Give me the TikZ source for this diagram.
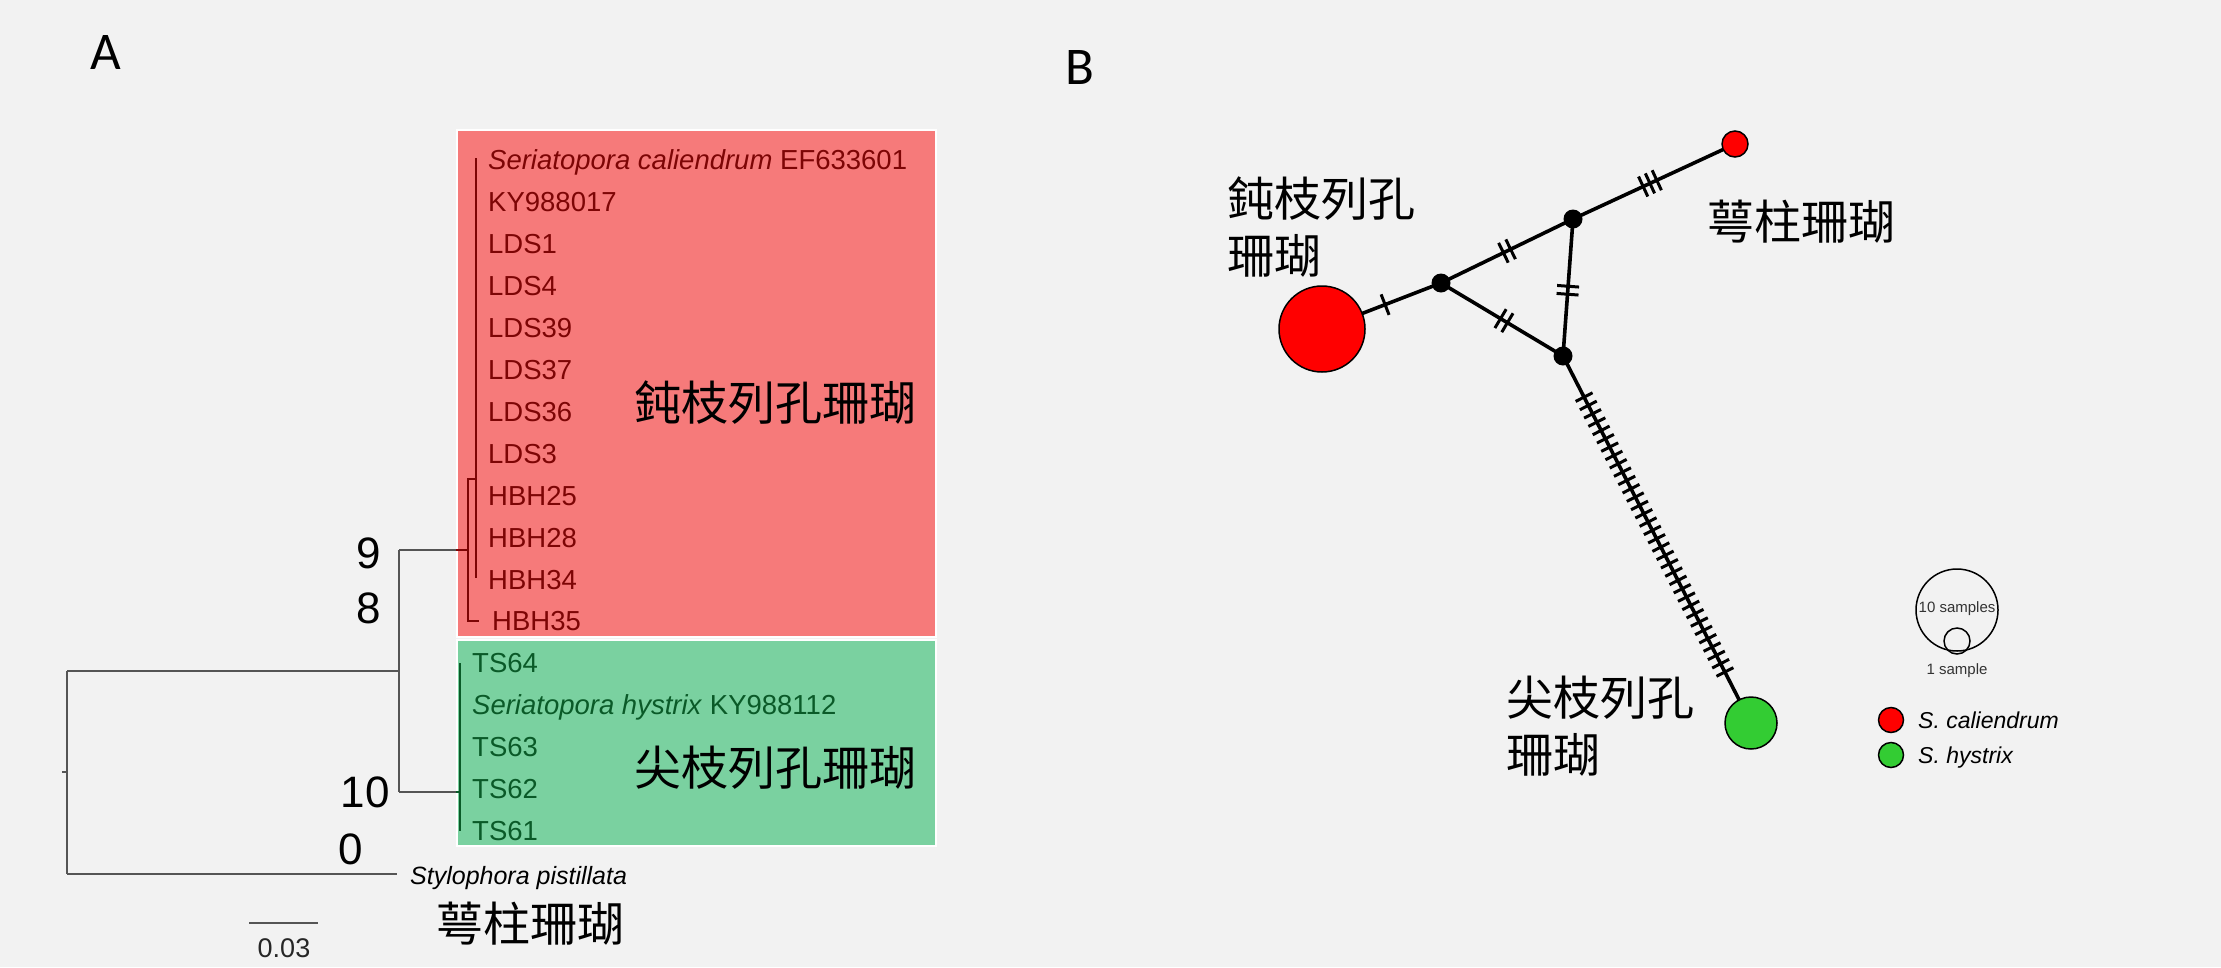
\documentclass[tikz,border=0pt]{standalone}
\usepackage{fontspec}
\setmainfont{Liberation Sans}
\newfontfamily\cjk{Noto Sans CJK TC}
\newfontfamily\carl{Carlito}
\usetikzlibrary{decorations.markings}
\definecolor{bgc}{RGB}{242,242,242}
\definecolor{redbox}{RGB}{246,122,122}
\definecolor{greenbox}{RGB}{122,209,160}
\definecolor{redtxt}{RGB}{125,5,5}
\definecolor{greentxt}{RGB}{10,90,40}
\definecolor{treegray}{RGB}{85,85,85}
\definecolor{netred}{RGB}{255,0,0}
\definecolor{netgreen}{RGB}{51,204,51}
\begin{document}
\begin{tikzpicture}[x=1pt,y=-1pt,
  treeline/.style={draw=treegray, line width=1.6pt},
  redline/.style={draw=redtxt, line width=1.2pt},
  grnline/.style={draw=greentxt, line width=1.2pt},
  lab/.style={anchor=west, inner sep=0pt, font=\fontsize{27.5}{30}\selectfont, text height=19.7pt, text depth=0pt},
  redlab/.style={lab, text=redtxt},
  grnlab/.style={lab, text=greentxt},
  boot/.style={anchor=east, inner sep=0pt, font=\fontsize{44}{48}\selectfont, text height=31.5pt, text depth=0pt},
  cjklab/.style={inner sep=0pt, font=\cjk\fontsize{47}{57}\selectfont, align=left},
  netedge/.style={line width=3.6pt, draw=black},
  tk/.style={line width=3pt, draw=black},
  hap/.style={circle, draw=black, line width=1.5pt, inner sep=0pt},
  mv/.style={circle, fill=black, inner sep=0pt, minimum size=19pt},
  onetick/.style={postaction={decorate, decoration={markings, mark=at position #1 with {\draw[tk] (0,-11pt) -- (0,11pt);}}}},
  twotick/.style={postaction={decorate, decoration={markings, mark=at position #1 with {\draw[tk] (-4pt,-11pt) -- (-4pt,11pt) (4pt,-11pt) -- (4pt,11pt);}}}},
  threetick/.style={postaction={decorate, decoration={markings, mark=at position #1 with {\draw[tk] (-7.5pt,-11pt) -- (-7.5pt,11pt) (0pt,-11pt) -- (0pt,11pt) (7.5pt,-11pt) -- (7.5pt,11pt);}}}},
  manytick/.style={postaction={decorate, decoration={markings, mark=between positions 0.112 and 0.862 step 9.36pt with {\draw[tk] (0,-9.5pt) -- (0,9.5pt);}}}},
  legtxt/.style={inner sep=0pt, font=\fontsize{15}{17}\selectfont, text=black!80},
  legsp/.style={anchor=west, inner sep=0pt, font=\fontsize{23}{25}\selectfont\itshape, text height=16.5pt, text depth=0pt},
]
% background / bounding box
\fill[bgc] (0,0) rectangle (2221,967);

% ---------------- Panel A ----------------
\node[font=\carl\fontsize{53}{56}\selectfont, inner sep=0pt] (labA) at (106,52) {A};

% clade boxes
\draw[white, line width=2pt, fill=redbox] (457,130) rectangle (936,637);
\draw[white, line width=2pt, fill=greenbox] (457,640) rectangle (936,846);

% tree (gray part)
\draw[treeline] (62,772) -- (67,772);
\draw[treeline] (67,671) -- (67,874);
\draw[treeline] (67,671) -- (399,671);
\draw[treeline] (399,550) -- (399,792);
\draw[treeline] (399,550) -- (456,550);
\draw[treeline] (399,792) -- (456,792);
\draw[treeline] (67,874) -- (397,874);
% tree inside red clade
\draw[redline] (456,550) -- (468,550);
\draw[redline] (476,479) -- (468,479) -- (468,621) -- (479,621);
\draw[redline] (476,158) -- (476,578);
% tree inside green clade
\draw[grnline] (456,792) -- (460,792);
\draw[grnline] (460,663) -- (460,831);

% red labels
\node[redlab] (r1) at (488,160) {\textit{Seriatopora caliendrum} EF633601};
\node[redlab] (r2) at (488,202) {KY988017};
\node[redlab] (r3) at (488,244) {LDS1};
\node[redlab] (r4) at (488,286) {LDS4};
\node[redlab] (r5) at (488,328) {LDS39};
\node[redlab] (r6) at (488,370) {LDS37};
\node[redlab] (r7) at (488,412) {LDS36};
\node[redlab] (r8) at (488,454) {LDS3};
\node[redlab] (r9) at (488,496) {HBH25};
\node[redlab] (r10) at (488,538) {HBH28};
\node[redlab] (r11) at (488,580) {HBH34};
\node[redlab] (r12) at (492,621) {HBH35};
% green labels
\node[grnlab] (g1) at (472,663) {TS64};
\node[grnlab] (g2) at (472,705) {\textit{Seriatopora hystrix} KY988112};
\node[grnlab] (g3) at (472,747) {TS63};
\node[grnlab] (g4) at (472,789) {TS62};
\node[grnlab] (g5) at (472,831) {TS61};

% clade names
\node[cjklab] (cal) at (775,403) {鈍枝列孔珊瑚};
\node[cjklab] (hys) at (775,768) {尖枝列孔珊瑚};

% bootstrap values
\node[boot] (b9) at (381,553) {9};
\node[boot] (b8) at (381,608) {8};
\node[boot] (b10) at (390,792) {10};
\node[boot] (b0) at (363,849) {0};

% outgroup
\node[anchor=west, inner sep=0pt, font=\fontsize{25}{27}\selectfont\itshape, text height=18pt, text depth=0pt] (sty) at (410,875) {Stylophora pistillata};
\node[cjklab] (styc) at (530,924) {萼柱珊瑚};

% scale bar
\coordinate (sb1) at (249,923);
\coordinate (sb2) at (318,923);
\draw[treeline, line width=1.4pt] (sb1) -- (sb2);
\node[inner sep=0pt, font=\fontsize{27}{29}\selectfont, text=black!85] (sbl) at (284,948) {0.03};

% ---------------- Panel B ----------------
\node[font=\carl\fontsize{53}{56}\selectfont, inner sep=0pt] (labB) at (1080,67) {B};

\coordinate (cBig) at (1322,329);
\coordinate (cN1) at (1441,283);
\coordinate (cN2) at (1573,219);
\coordinate (cN3) at (1563,356);
\coordinate (cSm) at (1735,144);
\coordinate (cGr) at (1751,723);

\draw[netedge, onetick=0.53] (cBig) -- (cN1);
\draw[netedge, twotick=0.5] (cN1) -- (cN2);
\draw[netedge, twotick=0.516] (cN1) -- (cN3);
\draw[netedge, twotick=0.52] (cN2) -- (cN3);
\draw[netedge, threetick=0.475] (cN2) -- (cSm);
\draw[netedge, manytick] (cN3) -- (cGr);

\node[hap, fill=netred, minimum size=86pt] (big) at (cBig) {};
\node[hap, fill=netred, minimum size=26pt] (sm) at (cSm) {};
\node[hap, fill=netgreen, minimum size=52pt] (gr) at (cGr) {};
\node[mv] (n1) at (cN1) {};
\node[mv] (n2) at (cN2) {};
\node[mv] (n3) at (cN3) {};

\node[cjklab, anchor=west] (lcal) at (1227,227) {鈍枝列孔\\珊瑚};
\node[cjklab] (lsty) at (1801,222) {萼柱珊瑚};
\node[cjklab, anchor=west] (lhys) at (1506,726) {尖枝列孔\\珊瑚};

% legend
\node[circle, draw=black, line width=1.5pt, minimum size=82pt, inner sep=0pt] (leg10) at (1957,610) {};
\node[circle, draw=black, line width=1.5pt, minimum size=26pt, inner sep=0pt] (leg1) at (1957,641) {};
\node[legtxt] (t10) at (1957,609) {10 samples};
\node[legtxt] (t1) at (1957,671) {1 sample};
\node[hap, fill=netred, minimum size=25pt] (lr) at (1891,720) {};
\node[hap, fill=netgreen, minimum size=25pt] (lg) at (1891,755) {};
\node[legsp] (tr) at (1918,720) {S. caliendrum};
\node[legsp] (tg) at (1918,755) {S. hystrix};
\end{tikzpicture}
\end{document}
